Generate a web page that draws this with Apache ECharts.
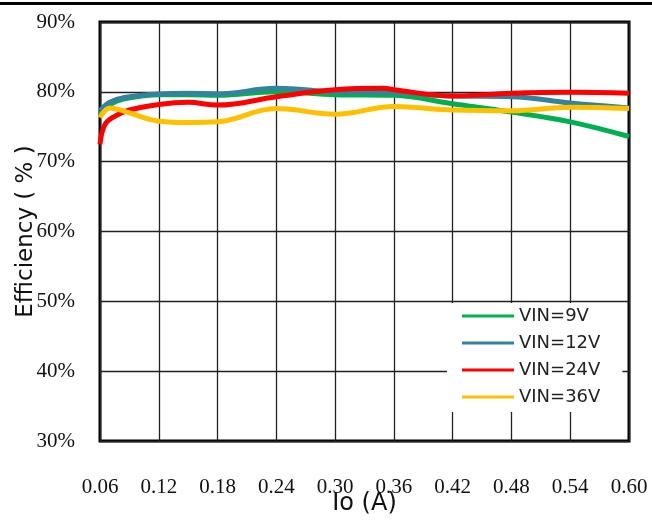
<!DOCTYPE html>
<html>
<head>
<meta charset="utf-8">
<script src="https://cdn.jsdelivr.net/npm/echarts@6/dist/echarts.min.js"></script>
<style>
html,body{margin:0;padding:0;background:#fff;}
#c{width:652px;height:521px;}
</style>
</head>
<body>
<div id="c"></div>
<script>
var seriesNames = ['VIN=9V', 'VIN=12V', 'VIN=24V', 'VIN=36V'];
var xTicks = [0.06, 0.12, 0.18, 0.24, 0.30, 0.36, 0.42, 0.48, 0.54, 0.60];
var yTicks = [30, 40, 50, 60, 70, 80, 90];

var vin9 = [[0.06,76.8],[0.07,78.2],[0.085,79.0],[0.12,79.6],[0.15,79.6],[0.18,79.5],[0.24,80.0],[0.30,79.6],[0.36,79.5],[0.42,78.3],[0.48,77.1],[0.54,75.7],[0.60,73.6]];
var vin12 = [[0.06,77.3],[0.07,78.5],[0.085,79.2],[0.12,79.7],[0.15,79.8],[0.18,79.7],[0.24,80.5],[0.30,80.0],[0.36,79.9],[0.42,79.4],[0.48,79.3],[0.54,78.4],[0.60,77.7]];
var vin24 = [[0.06,72.5],[0.065,75.3],[0.075,76.5],[0.09,77.4],[0.12,78.2],[0.15,78.5],[0.18,78.1],[0.24,79.3],[0.30,80.3],[0.35,80.5],[0.36,80.3],[0.42,79.4],[0.48,79.8],[0.54,79.95],[0.60,79.8]];
var vin36 = [[0.06,76.3],[0.07,77.7],[0.085,77.2],[0.12,75.8],[0.15,75.6],[0.18,75.7],[0.24,77.6],[0.30,76.8],[0.36,77.9],[0.42,77.4],[0.48,77.3],[0.54,77.8],[0.60,77.6]];

var colors = ['#00B050', '#31849B', '#FF0000', '#FFC000'];
var datas = [vin9, vin12, vin24, vin36];

var chart = echarts.init(document.getElementById('c'));
var series = seriesNames.map(function (n, i) {
  return {
    name: n, type: 'line', data: datas[i], smooth: 0.4, symbol: 'none',
    lineStyle: { color: colors[i], width: 5 }, itemStyle: { color: colors[i] }
  };
});

chart.setOption({
  animation: false,
  backgroundColor: '#fff',
  grid: { left: 100, right: 23, top: 22, bottom: 80, show: true, borderColor: '#000', borderWidth: 3,
    backgroundColor: 'transparent', outerBoundsMode: 'none', containLabel: false },
  xAxis: {
    type: 'value', min: xTicks[0], max: xTicks[xTicks.length - 1], interval: 0.06,
    name: 'Io (A)', nameLocation: 'middle', nameGap: 51, nameMoveOverlap: false,
    nameTextStyle: { fontFamily: 'DejaVu Sans', fontSize: 24, color: '#111' },
    axisLine: { show: false }, axisTick: { show: false },
    axisLabel: { margin: 36, fontFamily: 'Liberation Serif', fontSize: 21, color: '#111',
      formatter: function (v) { return v.toFixed(2); } },
    splitLine: { show: true, lineStyle: { color: '#222', width: 1.3 } }
  },
  yAxis: {
    type: 'value', min: yTicks[0], max: yTicks[yTicks.length - 1], interval: 10,
    name: 'Efficiency ( % )', nameLocation: 'middle', nameGap: 62, nameRotate: 90, nameMoveOverlap: false,
    nameTextStyle: { fontFamily: 'DejaVu Sans', fontSize: 23, color: '#111' },
    axisLine: { show: false }, axisTick: { show: false },
    axisLabel: { margin: 25, fontFamily: 'Liberation Serif', fontSize: 21, color: '#111',
      formatter: '{value}%' },
    splitLine: { show: true, lineStyle: { color: '#222', width: 1.3 } }
  },
  legend: {
    data: seriesNames, orient: 'vertical', left: 447, top: 303,
    backgroundColor: '#fff', padding: [4, 22, 6, 15], itemGap: 9,
    itemWidth: 52, itemHeight: 3, icon: 'rect',
    textStyle: { fontFamily: 'DejaVu Sans', fontSize: 18, color: '#222' }
  },
  graphic: [{ type: 'rect', left: 0, top: 2, shape: { width: 652, height: 3 }, style: { fill: '#000' } }],
  series: series
});
</script>
</body>
</html>
